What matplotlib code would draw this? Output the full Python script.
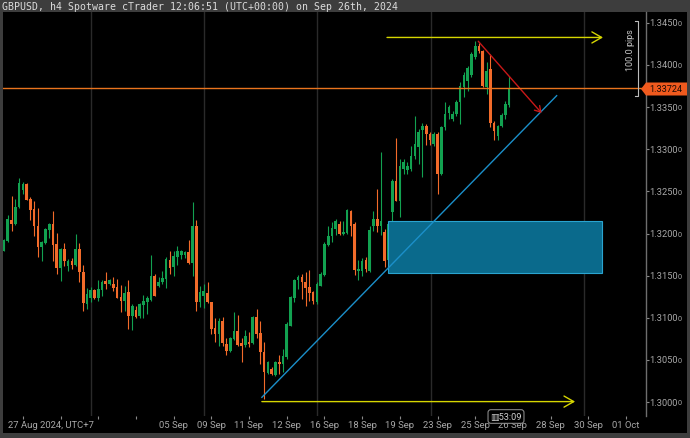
import matplotlib
matplotlib.use('Agg')
import matplotlib.pyplot as plt
from matplotlib.patches import Rectangle, Polygon
from matplotlib.transforms import blended_transform_factory
import numpy as np

plt.rcParams['font.family'] = ['Roboto', 'DejaVu Sans']

# GBPUSD h4 candles (oldest first)
opens = [1.3179, 1.3191, 1.3216, 1.3211, 1.3231, 1.3252, 1.3259, 1.3241, 1.3229, 1.3209,
         1.3184, 1.3189, 1.3204, 1.3211, 1.3188, 1.3159, 1.3182, 1.3161, 1.3167, 1.3163,
         1.3182, 1.3154, 1.3116, 1.3123, 1.3133, 1.3123, 1.3133, 1.3144, 1.3140, 1.3140,
         1.3137, 1.3125, 1.3120, 1.3131, 1.3102, 1.3109, 1.3102, 1.3115, 1.3119, 1.3121,
         1.3150, 1.3138, 1.3142, 1.3146, 1.3169, 1.3160, 1.3172, 1.3174, 1.3174, 1.3178,
         1.3165, 1.3209, 1.3119, 1.3126, 1.3129, 1.3119, 1.3088, 1.3081, 1.3096, 1.3069,
         1.3061, 1.3075, 1.3084, 1.3070, 1.3068, 1.3071, 1.3070, 1.3101, 1.3082, 1.3059,
         1.3034, 1.3039, 1.3032, 1.3047, 1.3045, 1.3053, 1.3090, 1.3123, 1.3145, 1.3148,
         1.3142, 1.3137, 1.3131, 1.3119, 1.3138, 1.3151, 1.3186, 1.3197, 1.3205, 1.3211,
         1.3199, 1.3201, 1.3227, 1.3211, 1.3155, 1.3155, 1.3169, 1.3155, 1.3209, 1.3217,
         1.3209, 1.3202, 1.3168, 1.3225, 1.3262, 1.3239, 1.3277, 1.3275, 1.3277, 1.3292,
         1.3303, 1.3323, 1.3328, 1.3318, 1.3306, 1.3318, 1.3271, 1.3326, 1.3343, 1.3336,
         1.3342, 1.3356, 1.3374, 1.3381, 1.3388, 1.3410, 1.3423, 1.3417, 1.3374, 1.3395,
         1.3331, 1.3316, 1.3328, 1.3341, 1.3353]
highs = [1.3193, 1.3222, 1.3245, 1.3241, 1.3266, 1.3261, 1.3260, 1.3243, 1.3239, 1.3230,
         1.3191, 1.3207, 1.3212, 1.3227, 1.3201, 1.3183, 1.3189, 1.3170, 1.3171, 1.3199,
         1.3189, 1.3163, 1.3135, 1.3137, 1.3134, 1.3145, 1.3145, 1.3154, 1.3146, 1.3148,
         1.3146, 1.3139, 1.3138, 1.3145, 1.3116, 1.3114, 1.3118, 1.3127, 1.3126, 1.3174,
         1.3152, 1.3148, 1.3155, 1.3172, 1.3179, 1.3179, 1.3185, 1.3180, 1.3179, 1.3192,
         1.3237, 1.3216, 1.3138, 1.3140, 1.3142, 1.3119, 1.3100, 1.3100, 1.3101, 1.3076,
         1.3077, 1.3107, 1.3103, 1.3076, 1.3085, 1.3083, 1.3102, 1.3110, 1.3096, 1.3071,
         1.3049, 1.3042, 1.3049, 1.3056, 1.3063, 1.3095, 1.3126, 1.3146, 1.3151, 1.3152,
         1.3154, 1.3157, 1.3132, 1.3142, 1.3154, 1.3190, 1.3209, 1.3214, 1.3217, 1.3215,
         1.3215, 1.3229, 1.3228, 1.3214, 1.3169, 1.3171, 1.3172, 1.3209, 1.3227, 1.3253,
         1.3297, 1.3205, 1.3215, 1.3265, 1.3313, 1.3288, 1.3288, 1.3285, 1.3304, 1.3339,
         1.3324, 1.3331, 1.3330, 1.3321, 1.3320, 1.3320, 1.3328, 1.3356, 1.3353, 1.3345,
         1.3358, 1.3380, 1.3392, 1.3399, 1.3415, 1.3429, 1.3426, 1.3418, 1.3404, 1.3413,
         1.3333, 1.3329, 1.3343, 1.3357, 1.3387]
lows = [1.3179, 1.3190, 1.3203, 1.3210, 1.3230, 1.3247, 1.3240, 1.3216, 1.3197, 1.3172,
        1.3167, 1.3188, 1.3195, 1.3167, 1.3152, 1.3144, 1.3161, 1.3155, 1.3158, 1.3161,
        1.3142, 1.3108, 1.3110, 1.3119, 1.3122, 1.3120, 1.3126, 1.3134, 1.3139, 1.3132,
        1.3123, 1.3107, 1.3108, 1.3087, 1.3085, 1.3100, 1.3100, 1.3100, 1.3104, 1.3120,
        1.3126, 1.3137, 1.3140, 1.3135, 1.3152, 1.3150, 1.3163, 1.3170, 1.3171, 1.3164,
        1.3150, 1.3108, 1.3113, 1.3112, 1.3118, 1.3081, 1.3071, 1.3066, 1.3066, 1.3056,
        1.3059, 1.3074, 1.3066, 1.3047, 1.3065, 1.3065, 1.3069, 1.3076, 1.3045, 1.3003,
        1.3033, 1.3032, 1.3031, 1.3033, 1.3036, 1.3051, 1.3090, 1.3119, 1.3134, 1.3122,
        1.3114, 1.3120, 1.3116, 1.3116, 1.3138, 1.3150, 1.3185, 1.3190, 1.3198, 1.3198,
        1.3198, 1.3199, 1.3197, 1.3151, 1.3145, 1.3150, 1.3154, 1.3154, 1.3203, 1.3202,
        1.3198, 1.3160, 1.3160, 1.3212, 1.3238, 1.3220, 1.3271, 1.3271, 1.3274, 1.3288,
        1.3283, 1.3267, 1.3305, 1.3305, 1.3304, 1.3247, 1.3270, 1.3323, 1.3336, 1.3334,
        1.3340, 1.3330, 1.3362, 1.3369, 1.3386, 1.3407, 1.3414, 1.3374, 1.3366, 1.3326,
        1.3311, 1.3311, 1.3327, 1.3336, 1.3350]
closes = [1.3192, 1.3217, 1.3211, 1.3231, 1.3260, 1.3259, 1.3240, 1.3228, 1.3209, 1.3184,
          1.3190, 1.3205, 1.3211, 1.3186, 1.3159, 1.3182, 1.3167, 1.3167, 1.3163, 1.3182,
          1.3154, 1.3118, 1.3128, 1.3133, 1.3123, 1.3134, 1.3142, 1.3140, 1.3145, 1.3135,
          1.3123, 1.3120, 1.3129, 1.3102, 1.3114, 1.3101, 1.3116, 1.3120, 1.3123, 1.3150,
          1.3126, 1.3142, 1.3147, 1.3170, 1.3159, 1.3173, 1.3179, 1.3179, 1.3178, 1.3165,
          1.3209, 1.3119, 1.3131, 1.3132, 1.3119, 1.3087, 1.3081, 1.3096, 1.3070, 1.3061,
          1.3076, 1.3084, 1.3068, 1.3066, 1.3078, 1.3069, 1.3101, 1.3081, 1.3059, 1.3036,
          1.3047, 1.3033, 1.3047, 1.3045, 1.3055, 1.3093, 1.3125, 1.3145, 1.3148, 1.3142,
          1.3135, 1.3129, 1.3120, 1.3140, 1.3152, 1.3188, 1.3197, 1.3207, 1.3215, 1.3199,
          1.3202, 1.3228, 1.3209, 1.3157, 1.3158, 1.3167, 1.3158, 1.3204, 1.3217, 1.3209,
          1.3215, 1.3167, 1.3211, 1.3262, 1.3239, 1.3280, 1.3285, 1.3280, 1.3292, 1.3306,
          1.3320, 1.3328, 1.3318, 1.3311, 1.3318, 1.3271, 1.3326, 1.3342, 1.3350, 1.3342,
          1.3356, 1.3375, 1.3388, 1.3396, 1.3413, 1.3423, 1.3417, 1.3375, 1.3393, 1.3331,
          1.3322, 1.3328, 1.3341, 1.3354, 1.33724]

last_price = 1.33724
price_levels = [1.3000, 1.3050, 1.3100, 1.3150, 1.3200, 1.3250, 1.3300, 1.3350, 1.3400, 1.3450]
date_ticks = [45, 55, 65, 75, 85, 95, 105, 115, 125, 135, 145, 155, 165]
date_labels = ['05 Sep', '09 Sep', '11 Sep', '12 Sep', '16 Sep', '18 Sep', '19 Sep',
               '23 Sep', '25 Sep', '26 Sep', '28 Sep', '30 Sep', '01 Oct']
week_lines = [23, 53, 83, 113.3, 153.8]

# drawings on the chart (bar index, price)
top_arrow = ([101.6, 158.9], [1.34327, 1.34327])
bottom_arrow = ([68.4, 151.5], [1.30005, 1.30005])
trend_line = ([68.4, 146.6], [1.30056, 1.33636])
red_arrow = ([125.8, 142.6], [1.34282, 1.33430])
zone = (101.9, 158.6, 1.31531, 1.32149)
pips_range = (1.34526, 1.33636)

GREEN = '#12a150'
ORANGE = '#f26b2a'
W, H = 690, 439


def fx(px):
    return px / W


def fy(py):
    return 1 - py / H


fig = plt.figure(figsize=(W / 100, H / 100), dpi=100)
fig.patch.set_facecolor('#3d3d3d')
fig.add_artist(Rectangle((fx(3), fy(434)), fx(684), 421 / H, transform=fig.transFigure,
                         fc='black', ec='none', zorder=-1))

ax = fig.add_axes([fx(3), fy(417), fx(643), 404 / H])
ax.set_facecolor('black')
ax.set_xlim(-0.27, 170.3)
ax.set_ylim(1.29834, 1.34629)
for s in ['top', 'left', 'bottom']:
    ax.spines[s].set_visible(False)
ax.spines['right'].set_color('#6e6e6e')
ax.spines['right'].set_linewidth(1)

# week separators
for w in week_lines:
    ax.axvline(w, color='#2a2a2a', lw=1, zorder=1)

# candles
o = np.array(opens)
h = np.array(highs)
l = np.array(lows)
c = np.array(closes)
x = np.arange(len(o))
cols = np.where(c >= o, GREEN, ORANGE)
ax.vlines(x, l, h, colors=cols, lw=0.8, zorder=2)
ax.bar(x, np.maximum(np.abs(c - o), 0.00008), bottom=np.minimum(o, c), width=0.7,
       color=cols, lw=0, zorder=3)

# zone rectangle
ax.add_patch(Rectangle((zone[0], zone[2]), zone[1] - zone[0], zone[3] - zone[2],
                       fc='#0a6a8c', ec='#2aa4d0', lw=0.8, zorder=4))

# trend line and arrows
ax.plot(*trend_line, color='#1b8fc9', lw=1, zorder=5)
for xs, ys in [top_arrow, bottom_arrow]:
    ax.annotate('', xy=(xs[1], ys[1]), xytext=(xs[0], ys[0]),
                arrowprops=dict(arrowstyle='->,head_length=0.7,head_width=0.4',
                                color='#d6d600', lw=1, shrinkA=0, shrinkB=0), zorder=5)
ax.annotate('', xy=(red_arrow[0][1], red_arrow[1][1]), xytext=(red_arrow[0][0], red_arrow[1][0]),
            arrowprops=dict(arrowstyle='->,head_length=0.4,head_width=0.25',
                            color='#c81818', lw=1, shrinkA=0, shrinkB=0), zorder=5)

# current price lines
ax.axhline(last_price + 0.00008, color='#3d8a34', lw=0.6, zorder=6)
ax.axhline(last_price, color='#e8741e', lw=1, zorder=6)

# pips measure bracket
ax.plot([167.3, 168.2, 168.2, 167.3], [pips_range[0], pips_range[0], pips_range[1], pips_range[1]],
        color='#bdbdbd', lw=0.8, zorder=6, clip_on=False)
ax.text(166.2, sum(pips_range) / 2 + 0.0011, '100.0 pips', rotation=90, ha='center', va='center',
        color='#c8c8c8', fontsize=6.5, zorder=6)

# axis ticks
ax.yaxis.tick_right()
ax.set_yticks(price_levels)
ax.set_yticklabels([])
ax.tick_params(axis='y', length=2, color='#8a8a8a', width=0.8)
ax.set_xticks(range(5, 170, 10))
ax.set_xticklabels([])
ax.tick_params(axis='x', length=2, color='#8a8a8a', width=0.8)

ytr = blended_transform_factory(fig.transFigure, ax.transData)
for p in price_levels:
    fig.text(fx(649), p, '%.4f' % p, transform=ytr, ha='left', va='center',
             color='#a8a8a8', fontsize=6.7)
    fig.text(fx(677.5), p - 0.00008, '0', transform=ytr, ha='left', va='center',
             color='#a8a8a8', fontsize=5.2)

xtr = blended_transform_factory(ax.transData, fig.transFigure)
for t, lab in zip(date_ticks, date_labels):
    fig.text(t, fy(426), lab, transform=xtr, ha='center', va='center', color='#a8a8a8', fontsize=6.8)
fig.text(fx(8), fy(426), '27 Aug 2024, UTC+7', ha='left', va='center', color='#a8a8a8', fontsize=6.8)

# bar countdown
fig.text(fx(506), fy(417.5), '\u25a553:09', ha='center', va='center', color='#d0d0d0', fontsize=6.6,
         bbox=dict(boxstyle='round,pad=0.25,rounding_size=0.3', fc='black', ec='#9a9a9a', lw=0.7))

# price tag
tag = Polygon([(fx(641), fy(90)), (fx(646), fy(83.5)), (fx(687), fy(83.5)),
               (fx(687), fy(96.5)), (fx(646), fy(96.5))], closed=True,
              transform=fig.transFigure, fc='#f05a1e', ec='none', zorder=5)
fig.add_artist(tag)
fig.text(fx(649), fy(90), '%.5f' % last_price, ha='left', va='center', color='#1a0a05',
         fontsize=6.6, zorder=6)

# title bar
fig.text(fx(2), fy(7), 'GBPUSD, h4 Spotware cTrader 12:06:51 (UTC+00:00) on Sep 26th, 2024',
         family='DejaVu Sans Mono', fontsize=7.1, color='#dcdcdc', ha='left', va='center')

fig.savefig('out.png', dpi=100, facecolor=fig.get_facecolor())
